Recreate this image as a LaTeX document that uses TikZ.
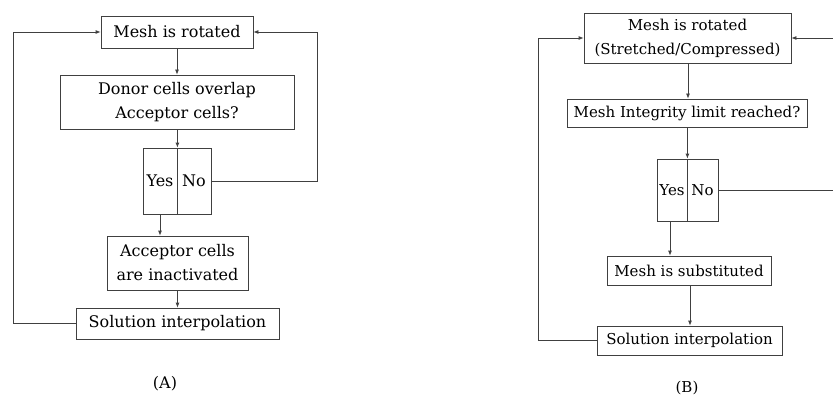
\documentclass[tikz,border=0pt]{standalone}
\usepackage{fontspec}
\setmainfont{DejaVu Serif}
\usetikzlibrary{arrows.meta}

\begin{document}
\begin{tikzpicture}[x=1pt,y=-1pt,
        every node/.style={font=\fontsize{16}{24}\selectfont},
        small/.style={font=\fontsize{15}{24}\selectfont},
        box/.style={draw=black!75,line width=0.8pt,inner sep=0pt,align=center},
        arr/.style={draw=black!75,line width=0.8pt,-{Latex[length=5pt,width=4pt]}},
        lin/.style={draw=black!75,line width=0.8pt}]
    \useasboundingbox (0,0) rectangle (833,396); % keep the margins
    % flowchart (A)
    \node[box,minimum width=152pt,minimum height=32pt] (mesha) at (177,32) {Mesh is rotated};
    \node[box,minimum width=234pt,minimum height=54pt] (donora) at (177,102) {Donor cells overlap\\Acceptor cells?};
    \node[box,minimum width=34pt,minimum height=66pt] (yesa) at (160,181) {Yes};
    \node[box,minimum width=34pt,minimum height=66pt] (noa) at (194,181) {No};
    \node[box,minimum width=141pt,minimum height=54pt] (acca) at (177.5,263) {Acceptor cells\\are inactivated};
    \node[box,minimum width=203pt,minimum height=31pt] (sola) at (177.5,323.5) {Solution interpolation};
    \node (laba) at (165,384) {(A)};
    \draw[arr] (mesha) -- (donora);
    \draw[arr] (donora.south -| yesa.east) -- (yesa.north east);
    \draw[arr] (yesa) -- (yesa |- acca.north);
    \draw[arr] (acca.south -| sola.north) -- (sola);
    \draw[arr] (sola.west) -- ++(-62,0) |- (mesha.west);
    \draw[arr] (noa.east) -- ++(106,0) |- (mesha.east);
    % flowchart (B)
    \node[box,small,minimum width=207pt,minimum height=50pt] (meshb) at (687.5,38) {Mesh is rotated\\(Stretched/Compressed)};
    \node[box,small,minimum width=240pt,minimum height=28pt] (integb) at (687,113) {Mesh Integrity limit reached?};
    \node[box,small,minimum width=30pt,minimum height=62pt] (yesb) at (672,190) {Yes};
    \node[box,small,minimum width=31pt,minimum height=62pt] (nob) at (702.5,190) {No};
    \node[box,small,minimum width=164pt,minimum height=29pt] (subb) at (689,270.5) {Mesh is substituted};
    \node[box,small,minimum width=185pt,minimum height=29pt] (solb) at (689.5,340.5) {Solution interpolation};
    \node[small] (labb) at (687,388) {(B)};
    \coordinate (outb) at (833,190);
    \coordinate (inb) at (833,38);
    \draw[arr] (meshb.south -| 688,0) -- (integb.north -| 688,0);
    \draw[arr] (integb.south -| yesb.east) -- (yesb.north east);
    \draw[arr] (yesb.south -| 670,0) -- (subb.north -| 670,0);
    \draw[arr] (subb.south -| 690,0) -- (solb.north -| 690,0);
    \draw[arr] (solb.west) -- ++(-58,0) |- (meshb.west);
    \draw[lin] (nob.east) -- (outb);
    \draw[arr] (inb) -- (meshb.east);
\end{tikzpicture}
\end{document}
